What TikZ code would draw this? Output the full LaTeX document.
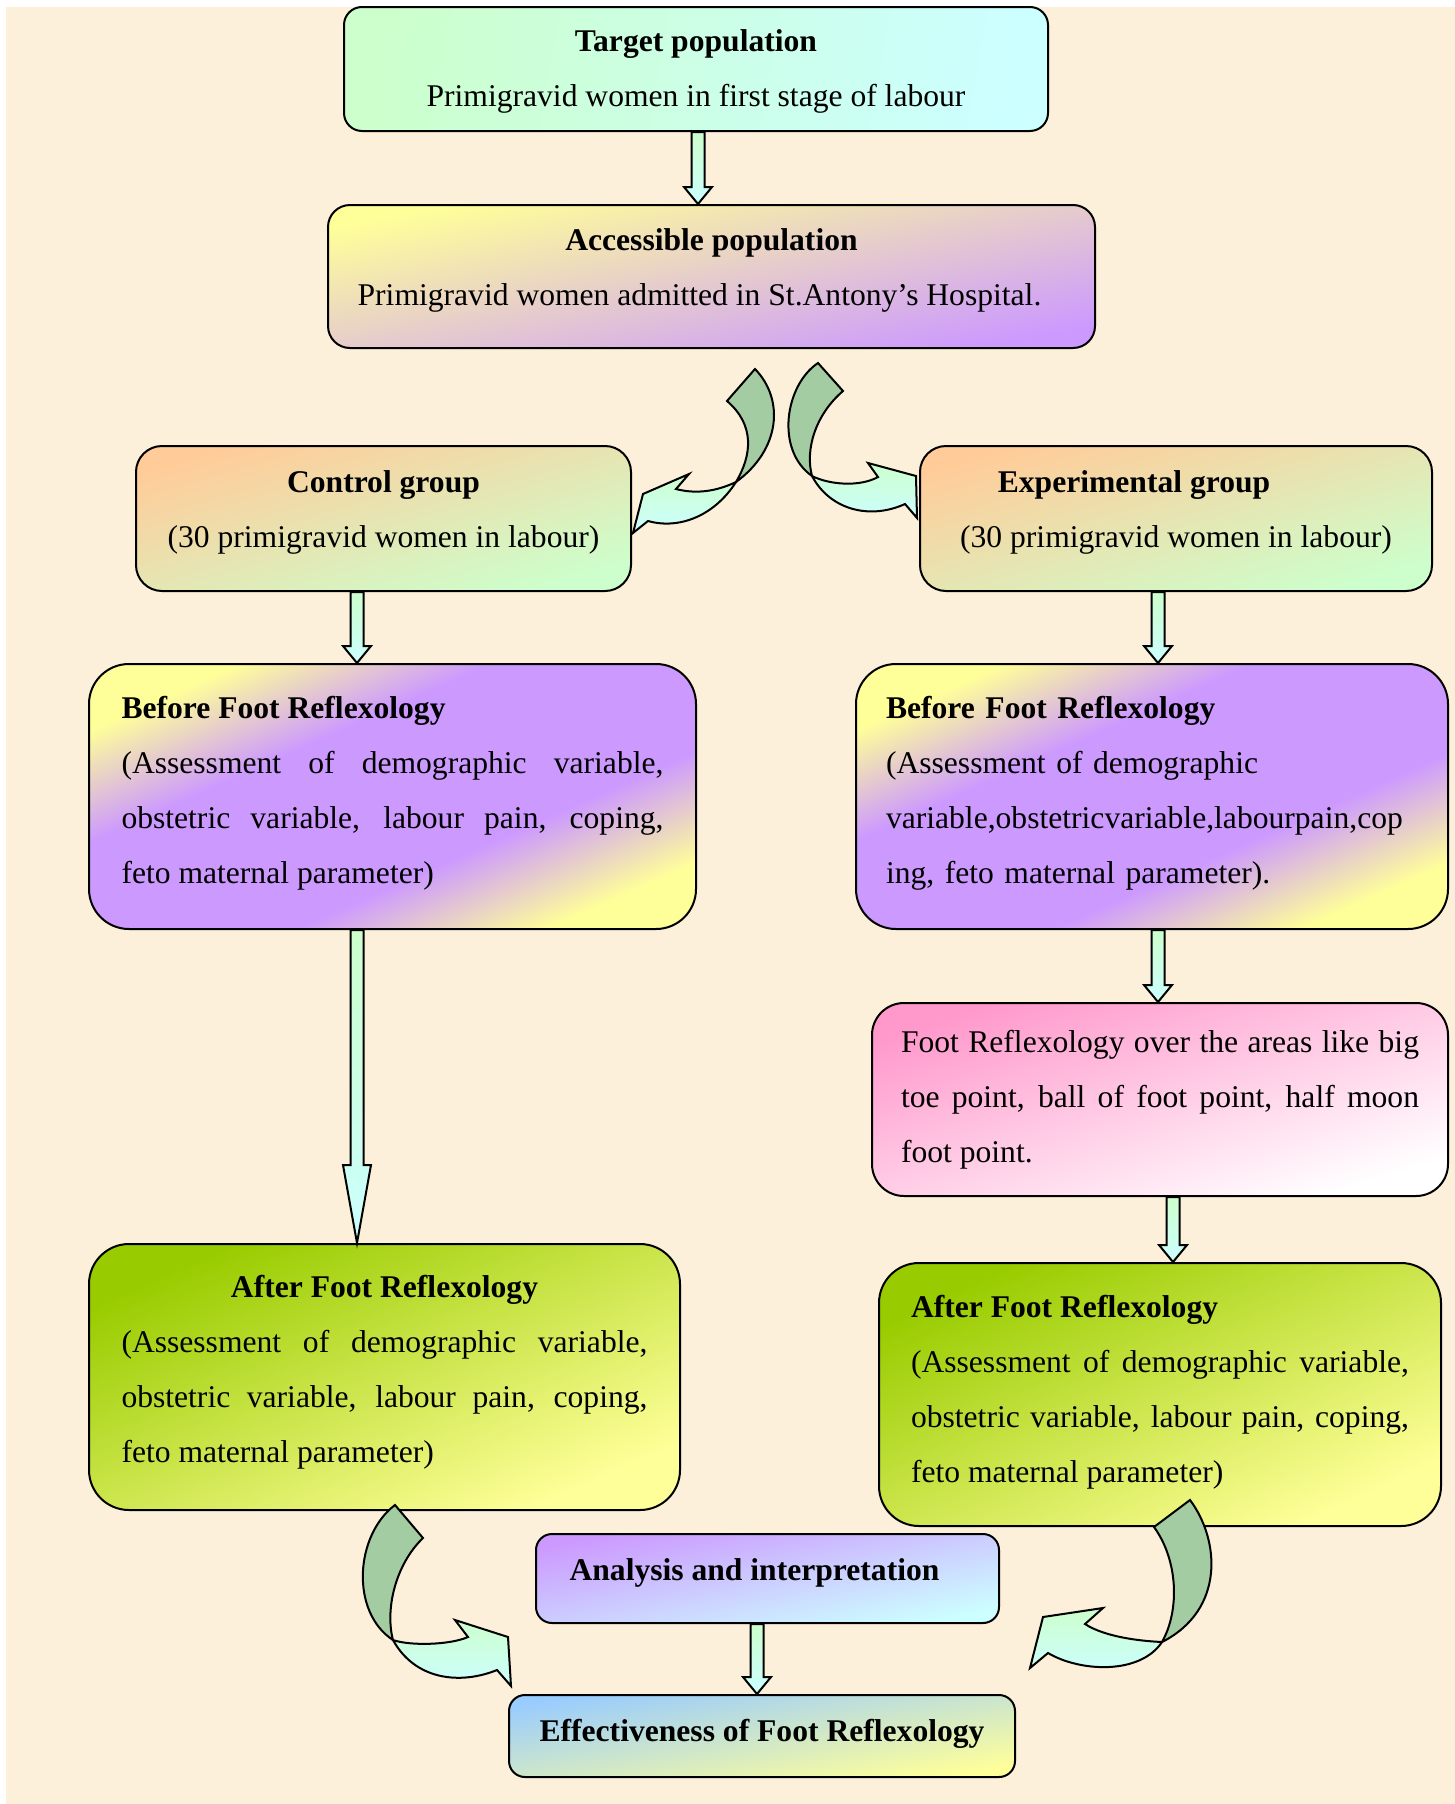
\documentclass[tikz,border=0pt]{standalone}
\usepackage{fontspec}
\setmainfont{Liberation Serif}
\usetikzlibrary{calc}

\definecolor{frgreen}{HTML}{CCFFCC}
\definecolor{frcyan}{HTML}{CCFFFF}
\definecolor{fryellow}{HTML}{FFFF99}
\definecolor{frlavender}{HTML}{CC99FF}
\definecolor{frtan}{HTML}{FFCC99}
\definecolor{frrose}{HTML}{FF99CC}
\definecolor{frlime}{HTML}{99CC00}
\definecolor{frblue}{HTML}{99CCFF}
\definecolor{frsage}{HTML}{A3CCA3}
\definecolor{frpaper}{HTML}{FDF0DA}

\pgfdeclareverticalshading{beforeshade}{100bp}{color(0bp)=(fryellow); color(25bp)=(fryellow); color(39bp)=(frlavender); color(61bp)=(frlavender); color(75bp)=(fryellow); color(100bp)=(fryellow)}

\tikzset{
  box/.style={draw, line width=1pt, text=black, font=\fontsize{15.8}{27.5}\selectfont},
  arrowfill/.style={draw, line width=1pt, top color=frgreen, bottom color=frcyan},
  twistpart/.style={draw, line width=1pt, fill=frsage},
  headpart/.style={draw, line width=1pt, top color=frgreen, bottom color=frcyan}
}

% extra depth under the last line, lifts the text a little
\newcommand{\lift}[1]{\rule[-#1]{0pt}{0pt}}

% block arrow: x position, from node, to node, head length
\newcommand{\blockdown}[4]{%
  \draw[arrowfill] ($(#1,0 |- #2.south)+(-6.5,0)$) -- ($(#1,0 |- #3.north)+(-6.5,-#4)$)
    -- ++(-7.5,0) -- (#1,0 |- #3.north) -- ($(#1,0 |- #3.north)+(14,-#4)$) -- ++(-7.5,0)
    -- ($(#1,0 |- #2.south)+(6.5,0)$) -- cycle;}

\begin{document}
\begin{tikzpicture}[x=0.5pt, y=-0.5pt]
\useasboundingbox (0,0) rectangle (1455,1804);
\fill[white] (0,0) rectangle (1455,1804);
\fill[frpaper] (6,7) rectangle (1455,1804);

% Populations
\node[box, minimum width=352pt, minimum height=62pt, rounded corners=9pt, top color=frgreen, bottom color=frcyan, shading angle=80, align=center] (target) at (696,69) {\rule{0pt}{13.5pt}\textbf{Target population}\\Primigravid women in first stage of labour};

\node[box, minimum width=383.5pt, minimum height=71.5pt, rounded corners=11pt, top color=fryellow, bottom color=frlavender, shading angle=11, align=center] (access) at (711.5,276.5) {\textbf{Accessible population}\\Primigravid women admitted in St.Antony’s Hospital.\hspace*{12pt}\lift{9.2pt}};

% Groups
\node[box, minimum width=247.5pt, minimum height=72.5pt, rounded corners=13pt, top color=frtan, bottom color=frgreen, shading angle=16, align=center] (control) at (383.5,518.5) {\textbf{Control group}\\(30 primigravid women in labour)\lift{9.2pt}};

\node[box, minimum width=256pt, minimum height=72.5pt, rounded corners=13pt, top color=frtan, bottom color=frgreen, shading angle=16, align=center] (exper) at (1176,518.5) {\textbf{Experimental group}\hspace*{42pt}\\(30 primigravid women in labour)\lift{9.2pt}};

% Pre assessment
\node[box, minimum width=303.5pt, minimum height=132.5pt, rounded corners=20pt, shade, shading=beforeshade, shading angle=24, text width=271pt, align=justify] (beforel) at (392.5,796.5) {\textbf{Before Foot Reflexology}\\(Assessment of demographic variable,\linebreak obstetric variable, labour pain, coping,\linebreak feto maternal parameter)\lift{6.8pt}};

\node[box, minimum width=296pt, minimum height=132.5pt, rounded corners=20pt, shade, shading=beforeshade, shading angle=24, text width=266pt, align=left] (beforer) at (1152,796.5) {\textbf{Before Foot Reflexology}\\(Assessment of demographic\\variable,obstetricvariable,labourpain,cop\\ing, feto maternal parameter).\lift{6.8pt}};

% Intervention
\node[box, minimum width=288pt, minimum height=96.5pt, rounded corners=16pt, top color=frrose, bottom color=white, shading angle=18, text width=259pt, align=justify] (foot) at (1160,1099.5) {Foot Reflexology over the areas like big\linebreak toe point, ball of foot point, half moon\linebreak foot point.};

% Post assessment
\node[box, minimum width=295.5pt, minimum height=133pt, rounded corners=20pt, top color=frlime, bottom color=fryellow, shading angle=24, text width=263pt, align=justify] (afterl) at (384.5,1377) {\hspace*{\fill}\textbf{After Foot Reflexology}\hspace*{\fill}\\(Assessment of demographic variable,\linebreak obstetric variable, labour pain, coping,\linebreak feto maternal parameter)\lift{8pt}};

\node[box, minimum width=281pt, minimum height=131.5pt, rounded corners=20pt, top color=frlime, bottom color=fryellow, shading angle=25, text width=249pt, align=justify] (afterr) at (1160,1394.5) {\textbf{After Foot Reflexology}\\(Assessment of demographic variable,\linebreak obstetric variable, labour pain, coping,\linebreak feto maternal parameter)\lift{5.8pt}};

% Results
\node[box, minimum width=231.5pt, minimum height=44.5pt, rounded corners=8pt, top color=frlavender, bottom color=frcyan, shading angle=11, align=center] (analysis) at (767.5,1578.5) {\textbf{Analysis and interpretation}\hspace*{13pt}\lift{9.2pt}};

\node[box, minimum width=253pt, minimum height=41pt, rounded corners=8pt, top color=frblue, bottom color=fryellow, shading angle=9, align=center] (effect) at (762,1736) {\textbf{Effectiveness of Foot Reflexology}\lift{5.8pt}};

% Straight arrows
\blockdown{698}{target}{access}{17}
\blockdown{357}{control}{beforel}{17}
\blockdown{1158}{exper}{beforer}{17}
\blockdown{357}{beforel}{afterl}{78}
\blockdown{1158}{beforer}{foot}{17}
\blockdown{1173}{foot}{afterr}{17}
\blockdown{757}{analysis}{effect}{17}

% Curved arrow to control group
\draw[twistpart] (755,369) .. controls (785,400) and (780,450) .. (736,482) .. controls (752,455) and (755,425) .. (727,401) -- cycle;
\draw[headpart] (736,482) .. controls (715,492) and (695,494) .. (676,489) -- (689,474) -- (643,494) -- (633,533) -- (648,521) .. controls (680,530) and (715,515) .. (736,482) -- cycle;

% Curved arrow to experimental group
\draw[twistpart] (818,363) .. controls (785,385) and (775,450) .. (812,476) .. controls (805,450) and (815,415) .. (843,391) -- cycle;
\draw[headpart] (812,476) .. controls (830,485) and (860,487) .. (878,477) -- (868,463) -- (916,476) -- (917,518) -- (905,504) .. controls (870,520) and (830,510) .. (812,476) -- cycle;

% Curved arrow from control arm
\draw[twistpart] (395,1505) .. controls (355,1535) and (350,1612) .. (393,1640) .. controls (385,1610) and (395,1565) .. (423,1538) -- cycle;
\draw[headpart] (393,1640) .. controls (410,1646) and (450,1645) .. (468,1637) -- (455,1620) -- (508,1637) -- (511,1686) -- (497,1670) .. controls (460,1685) and (415,1680) .. (393,1640) -- cycle;

% Curved arrow from experimental arm
\draw[twistpart] (1190,1500) .. controls (1220,1540) and (1225,1610) .. (1162,1642) .. controls (1180,1610) and (1178,1560) .. (1154,1527) -- cycle;
\draw[headpart] (1162,1642) .. controls (1140,1641) and (1105,1637) .. (1085,1624) -- (1103,1608) -- (1043,1617) -- (1030,1668) -- (1048,1653) .. controls (1080,1672) and (1140,1675) .. (1162,1642) -- cycle;
\end{tikzpicture}
\end{document}
